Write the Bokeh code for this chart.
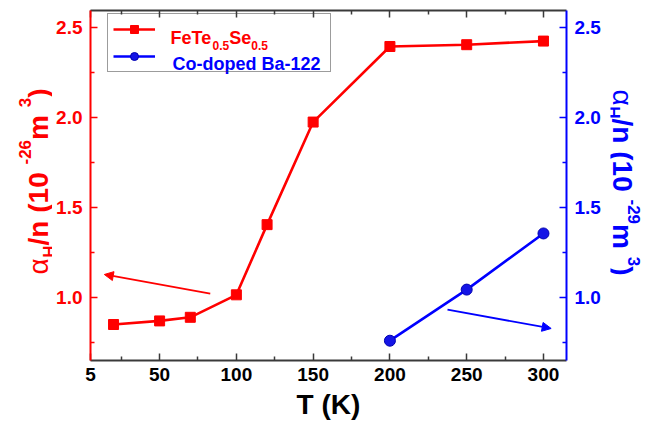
import math
from bokeh.plotting import figure
from bokeh.layouts import row
from bokeh.core.properties import value
from bokeh.models import (LinearAxis, Range1d, FixedTicker, Legend, LegendItem,
                          Arrow, NormalHead, PrintfTickFormatter)
from bokeh.embed import file_html
from bokeh.resources import INLINE

# ---------------- data ----------------
T_fete = [20, 50, 70, 100, 120, 150, 200, 250, 300]
alpha_fete = [0.85, 0.87, 0.89, 1.015, 1.405, 1.975, 2.395, 2.405, 2.425]

T_ba = [200, 250, 300]
alpha_ba = [0.76, 1.044, 1.356]

x_ticks = [5, 50, 100, 150, 200, 250, 300]
x_minor = [25, 75, 125, 175, 225, 275]
y_ticks = [1.0, 1.5, 2.0, 2.5]
y_minor = [0.75, 1.25, 1.75, 2.25]

RED = "#FF0000"
BLUE = "#0000FF"
GRAY = "#3a3a3a"
FONT = "Liberation Sans"

H = 422
LW, MW, RW = 52, 558, 36
XR = (5, 315)
YR = (0.65, 2.595)

# ---------------- main figure ----------------
p = figure(width=MW, height=H, output_backend="svg", toolbar_location=None,
           x_range=Range1d(*XR), y_range=Range1d(*YR))
p.min_border_left = 38
p.min_border_right = 44
p.min_border_top = 10
p.min_border_bottom = H - 360
p.outline_line_color = None
p.xgrid.visible = False
p.ygrid.visible = False

def style_axis(ax, color, label_color, ticks, minor, fs="19px", standoff=8):
    ax.ticker = FixedTicker(ticks=ticks, minor_ticks=minor)
    ax.axis_line_color = color
    ax.axis_line_width = 2
    ax.major_tick_line_color = color
    ax.minor_tick_line_color = color
    ax.major_tick_line_width = 1.5
    ax.minor_tick_line_width = 1.5
    ax.major_tick_in = 7
    ax.major_tick_out = 0
    ax.minor_tick_in = 4
    ax.minor_tick_out = 0
    ax.major_label_text_color = label_color
    ax.major_label_text_font = FONT
    ax.major_label_text_font_style = "bold"
    ax.major_label_text_font_size = fs
    ax.major_label_standoff = standoff

xa = p.xaxis[0]
style_axis(xa, GRAY, "black", x_ticks, x_minor, standoff=7)
xa.axis_label = "T (K)"
xa.axis_label_text_font = FONT
xa.axis_label_text_font_style = "bold"
xa.axis_label_text_font_size = "28px"
xa.axis_label_text_color = "black"
xa.axis_label_standoff = 5

ya = p.yaxis[0]
style_axis(ya, RED, RED, y_ticks, y_minor)
ya.formatter = PrintfTickFormatter(format="%.1f")

ra = LinearAxis()
style_axis(ra, BLUE, BLUE, y_ticks, y_minor)
ra.formatter = PrintfTickFormatter(format="%.1f")
p.add_layout(ra, "right")

ta = LinearAxis()
style_axis(ta, GRAY, GRAY, x_ticks, x_minor, fs="0px", standoff=0)
ta.major_label_text_alpha = 0
p.add_layout(ta, "above")

r_line = p.line(T_fete, alpha_fete, line_color=RED, line_width=2.6)
r_sq = p.scatter(T_fete, alpha_fete, marker="square", size=10, fill_color=RED, line_color=RED)
b_line = p.line(T_ba, alpha_ba, line_color=BLUE, line_width=2.6)
b_pt = p.scatter(T_ba, alpha_ba, marker="circle", size=11, fill_color="#1414e6", line_color="#0000b0")

p.add_layout(Arrow(x_start=83, y_start=1.022, x_end=14, y_end=1.128,
                   line_color=RED, line_width=1.8,
                   end=NormalHead(size=9, fill_color=RED, line_color=RED)))
p.add_layout(Arrow(x_start=237.5, y_start=0.933, x_end=305, y_end=0.828,
                   line_color=BLUE, line_width=1.8,
                   end=NormalHead(size=9, fill_color=BLUE, line_color=BLUE)))

# ---------------- text helpers ----------------
WID = {' ': 0.278, '(': 0.333, ')': 0.333, '-': 0.333, '.': 0.278, '/': 0.278,
       'H': 0.722, 'n': 0.611, 'm': 0.889, 'F': 0.611, 'e': 0.556, 'T': 0.611,
       'S': 0.667, 'C': 0.722, 'o': 0.611, 'd': 0.611, 'p': 0.611, 'B': 0.722,
       'a': 0.556, 'K': 0.722, 'α': 0.6}

def tw(s, size):
    return sum(WID.get(c, 0.556) for c in s) * size

def put(fig, text, x, y, size, color, angle=0.0, bold=True):
    fig.text(x=[x], y=[y], text=[text], angle=angle,
             text_font=value(FONT), text_font_size=value(f"{size}px"),
             text_font_style="bold" if bold else "normal",
             text_color=color, text_align="left", text_baseline="alphabetic")

def rotated(fig, pieces, base_x, start_y, direction, color):
    # coordinates here are page pixels (side figures map data 1:1 to page px)
    pos = start_y
    for text, size, shift, bold in pieces:
        if direction == 1:      # reads bottom -> top
            put(fig, text, base_x - shift, pos, size, color, angle=math.pi / 2, bold=bold)
            pos -= tw(text, size)
        else:                   # reads top -> bottom
            put(fig, text, base_x + shift, pos, size, color, angle=-math.pi / 2, bold=bold)
            pos += tw(text, size)

def side_fig(w, x0):
    # frames in the row share top/bottom edges (page y 10 .. 360); y range reversed = page y
    f = figure(width=w, height=H, output_backend="svg", toolbar_location=None,
               x_axis_location=None, y_axis_location=None,
               x_range=Range1d(x0, x0 + w), y_range=Range1d(360, 10))
    f.min_border_left = f.min_border_right = f.min_border_top = f.min_border_bottom = 0
    f.outline_line_color = None
    f.xgrid.visible = False
    f.ygrid.visible = False
    return f

M, S = 28, 17
left_pieces = [("α", M, 0, False), ("H", S, -11, True), ("/n  (10", M, 0, True),
               ("-26", S, 14, True), (" m", M, 0, True), ("3", S, 14, True), (")", M, 0, True)]
right_pieces = [("α", M, 0, False), ("H", S, -9, True), ("/n  (10", M, 0, True),
                ("-29", S, 11, True), (" m", M, 0, True), ("3", S, 11, True), (")", M, 0, True)]

L = side_fig(LW, 0)
R = side_fig(RW, LW + MW)
rotated(L, left_pieces, 38, 274, 1, RED)
rotated(R, right_pieces, 622, 89, -1, BLUE)

# ---------------- legend ----------------
def fx(px):   # page x -> screen x inside main frame
    return px - 90

def fy(py):
    return 360 - py

def dx(px):   # page x -> data x of main figure
    return XR[0] + (px - 90) * (XR[1] - XR[0]) / 476

def dy(py):
    return YR[0] + (360 - py) * (YR[1] - YR[0]) / 350

legend = Legend(items=[LegendItem(label=" ", renderers=[r_line, r_sq]),
                       LegendItem(label=" ", renderers=[b_line, b_pt])],
                location=(fx(107), fy(72)), orientation="vertical",
                glyph_width=42, glyph_height=20, label_height=20, label_width=154,
                label_standoff=16, padding=5, spacing=7, margin=0,
                label_text_font_size="1px",
                border_line_color=GRAY, border_line_width=1.5,
                background_fill_color="white", background_fill_alpha=0)
p.add_layout(legend, "center")

LS, LSS = 18, 12
x0 = 170
put(p, "FeTe", dx(x0), dy(37.5), LS, RED)
x1 = x0 + tw("FeTe", LS)
put(p, "0.5", dx(x1), dy(45), LSS, RED)
x2 = x1 + tw("0.5", LSS)
put(p, "Se", dx(x2), dy(37.5), LS, RED)
x3 = x2 + tw("Se", LS)
put(p, "0.5", dx(x3), dy(45), LSS, RED)
put(p, "Co-doped Ba-122", dx(172), dy(63.5), LS, BLUE)

layout = row(L, p, R)
open("out.html", "w").write(file_html(layout, INLINE))
